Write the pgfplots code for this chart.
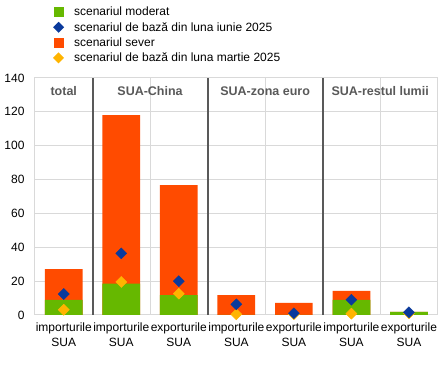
\documentclass[border=0pt]{standalone}
\usepackage{pgfplots}
\pgfplotsset{compat=1.18}
\usepackage{fontspec}
\setmainfont{Liberation Sans}
\definecolor{cgreen}{HTML}{66B800}
\definecolor{corange}{HTML}{FF4B00}
\definecolor{cblue}{HTML}{0A3A9C}
\definecolor{cyellow}{HTML}{FFB400}
\definecolor{cgrid}{HTML}{D9D9D9}
\definecolor{cdark}{HTML}{595959}
\begin{document}
\begin{tikzpicture}[x=1pt,y=1pt]
\path[use as bounding box] (0,0) rectangle (447,369);
\begin{axis}[
  at={(35pt,54pt)}, anchor=south west, scale only axis,
  width=402.7pt, height=237pt,
  xmin=-0.5, xmax=6.5, ymin=0, ymax=140,
  ytick={0,20,...,140},
  xtick={0,...,6},
  xticklabels={{importurile\\SUA},{importurile\\SUA},{exporturile\\SUA},{importurile\\SUA},{exporturile\\SUA},{importurile\\SUA},{exporturile\\SUA}},
  minor xtick={0.5,1.5,...,5.5},
  xminorgrids, ymajorgrids,
  grid style={cgrid, line width=1pt},
  minor grid style={cgrid, line width=1pt},
  axis line style={cgrid, line width=1pt},
  major tick length=0pt, minor tick length=0pt,
  tick label style={font=\fontsize{12}{15}\selectfont, text=black},
  /pgf/number format/assume math mode=true,
  xticklabel style={align=center, yshift=-4pt},
  yticklabel style={xshift=-7pt},
  legend style={at={(axis description cs:0.037,1.309)}, anchor=north west, draw=none, fill=none,
    font=\fontsize{12}{14}\selectfont, row sep=1pt, inner sep=0pt, legend cell align=left},
]
\addlegendimage{legend image code/.code={\path[draw=none,fill=none] (0pt,0pt) -- (22pt,0pt);\fill[cgreen,draw=none] (3.5pt,-5pt) rectangle (13.5pt,5pt);}}
\addlegendentry{scenariul moderat}
\addlegendimage{legend image code/.code={\path[draw=none,fill=none] (0pt,0pt) -- (22pt,0pt);\fill[cblue,draw=none] (8.5pt,5.5pt) -- (14pt,0pt) -- (8.5pt,-5.5pt) -- (3pt,0pt) -- cycle;}}
\addlegendentry{scenariul de bază din luna iunie 2025}
\addlegendimage{legend image code/.code={\path[draw=none,fill=none] (0pt,0pt) -- (22pt,0pt);\fill[corange,draw=none] (3.5pt,-5pt) rectangle (13.5pt,5pt);}}
\addlegendentry{scenariul sever}
\addlegendimage{legend image code/.code={\path[draw=none,fill=none] (0pt,0pt) -- (22pt,0pt);\fill[cyellow,draw=none] (8.5pt,5.5pt) -- (14pt,0pt) -- (8.5pt,-5.5pt) -- (3pt,0pt) -- cycle;}}
\addlegendentry{scenariul de bază din luna martie 2025}

% severe scenario
\addplot[forget plot, ybar, bar width=37.7pt, bar shift=0pt, fill=corange, draw=none]
  coordinates {(0,27.1) (1,118.0) (2,76.7) (3,11.8) (4,7.1) (5,14.2) (6,1.8)};
% moderate scenario
\addplot[forget plot, ybar, bar width=37.7pt, bar shift=0pt, fill=cgreen, draw=none]
  coordinates {(0,9.0) (1,18.5) (2,11.8) (3,0) (4,0) (5,9.0) (6,1.8)};
% baseline March 2025
\addplot[forget plot, only marks, mark=square*, mark size=3.9pt, mark options={rotate=45, fill=cyellow, draw=cyellow}]
  coordinates {(0,3.1) (1,19.5) (2,12.6) (3,0.4) (4,0.5) (5,0.8) (6,1.0)};
% baseline June 2025
\addplot[forget plot, only marks, mark=square*, mark size=3.9pt, mark options={rotate=45, fill=cblue, draw=cblue}]
  coordinates {(0,12.4) (1,36.4) (2,20.0) (3,6.3) (4,1.0) (5,9.0) (6,1.6)};

\draw[cdark, line width=2pt] (axis cs:0.5,0) -- (axis cs:0.5,140);
\draw[cdark, line width=2pt] (axis cs:2.5,0) -- (axis cs:2.5,140);
\draw[cdark, line width=2pt] (axis cs:4.5,0) -- (axis cs:4.5,140);
\node[font=\fontsize{12.5}{15}\selectfont\bfseries, text=cdark] at (axis cs:0,132.3) {total};
\node[font=\fontsize{12.5}{15}\selectfont\bfseries, text=cdark] at (axis cs:1.5,132.3) {SUA-China};
\node[font=\fontsize{12.5}{15}\selectfont\bfseries, text=cdark] at (axis cs:3.5,132.3) {SUA-zona euro};
\node[font=\fontsize{12.5}{15}\selectfont\bfseries, text=cdark] at (axis cs:5.5,132.3) {SUA-restul lumii};
\end{axis}
\end{tikzpicture}
\end{document}
